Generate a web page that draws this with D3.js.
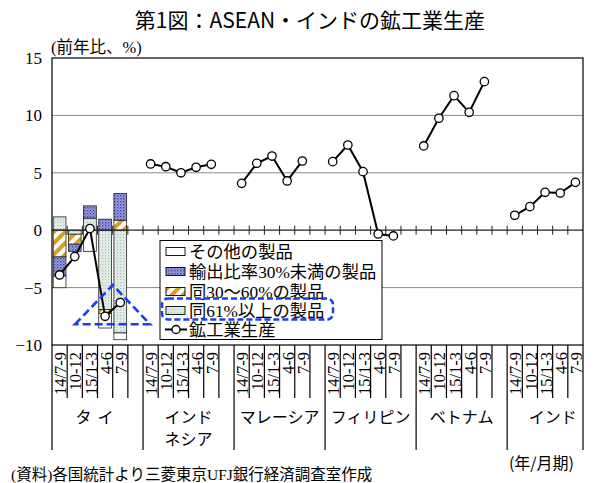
<!DOCTYPE html>
<html><head><meta charset="utf-8">
<script src="https://cdn.jsdelivr.net/npm/d3@7"></script>
<style>
html,body{margin:0;padding:0;background:#fff;}
svg{display:block;}
</style></head>
<body>
<svg id="c" width="605" height="483"></svg>
<script>
// ---------- data ----------
const quarters = ["14/7-9", "10-12", "15/1-3", "4-6", "7-9"];
const countries = ["タイ", "インド\nネシア", "マレーシア", "フィリピン", "ベトナム", "インド"];
const yTicks = [-10, -5, 0, 5, 10, 15];

// Thailand breakdown by export ratio (pt contribution)
const share61 = [1.16, -0.35, 1.05, -6.92, -8.95];
const share30to60 = [-2.33, -0.87, 0, -0.34, 0.87];
const shareUnder30 = [-1.66, -0.64, 1.07, 0.96, 2.33];
const shareOther = [-1.02, 0, -1.84, -1.26, -0.59];

// Industrial production (yoy %)
const prodThailand = [-3.9, -2.3, 0.15, -7.5, -6.3];
const prodIndonesia = [5.77, 5.53, 5.0, 5.48, 5.74];
const prodMalaysia = [4.08, 5.83, 6.46, 4.29, 6.03];
const prodPhilippines = [5.97, 7.42, 5.1, -0.33, -0.5];
const prodVietnam = [7.34, 9.75, 11.72, 10.27, 12.94];
const prodIndia = [1.3, 2.05, 3.3, 3.24, 4.17];
const prodAll = [prodThailand, prodIndonesia, prodMalaysia, prodPhilippines, prodVietnam, prodIndia];

const legendLabels = ["その他の製品", "輸出比率30%未満の製品", "同30～60%の製品", "同61%以上の製品", "鉱工業生産"];

// ---------- build slots ----------
const slots = [];
countries.forEach((c, gi) => {
  quarters.forEach((q, qi) => {
    slots.push({id: gi + "_" + qi, label: q, group: gi, prod: prodAll[gi][qi],
      s61: gi === 0 ? share61[qi] : 0, s3060: gi === 0 ? share30to60[qi] : 0,
      sU30: gi === 0 ? shareUnder30[qi] : 0, sOth: gi === 0 ? shareOther[qi] : 0});
  });
  if (gi < countries.length - 1) slots.push({id: gi + "_gap", label: "", group: gi, prod: null, s61: 0, s3060: 0, sU30: 0, sOth: 0});
});

// ---------- layout ----------
const L = 52, R = 583, T = 58, B = 345;
const svg = d3.select("#c");
const x = d3.scaleBand().domain(slots.map(d => d.id)).range([L, R]).paddingInner(0.16).paddingOuter(0.08);
const step = x.step();
const slotLeft = id => x(id) - step * 0.08;
const y = d3.scaleLinear().domain([-10, 15]).range([B, T]);

const serif = "'Liberation Serif','Noto Sans CJK JP',serif";
const cjk = "'Noto Sans CJK JP','Liberation Serif',sans-serif";

// patterns
const defs = svg.append("defs");
const pBlue = defs.append("pattern").attr("id", "pBlue").attr("width", 3).attr("height", 3).attr("patternUnits", "userSpaceOnUse");
pBlue.append("rect").attr("width", 3).attr("height", 3).attr("fill", "#9fa2e2");
pBlue.append("rect").attr("width", 1.4).attr("height", 1.4).attr("fill", "#3b3d9e");
pBlue.append("rect").attr("x", 1.5).attr("y", 1.5).attr("width", 1.2).attr("height", 1.2).attr("fill", "#5a5cb8");
const pOr = defs.append("pattern").attr("id", "pOr").attr("width", 8).attr("height", 8).attr("patternUnits", "userSpaceOnUse").attr("patternTransform", "rotate(45)");
pOr.append("rect").attr("width", 8).attr("height", 8).attr("fill", "#fff");
pOr.append("rect").attr("width", 4).attr("height", 8).attr("fill", "#dc9e1e");
const pGr = defs.append("pattern").attr("id", "pGr").attr("width", 3).attr("height", 3).attr("patternUnits", "userSpaceOnUse");
pGr.append("rect").attr("width", 3).attr("height", 3).attr("fill", "#e6f0ea");
pGr.append("rect").attr("width", 1.2).attr("height", 1.2).attr("fill", "#a4c0b2");
pGr.append("rect").attr("x", 1.5).attr("y", 1.5).attr("width", 1).attr("height", 1).attr("fill", "#c2d6cb");

// ---------- title ----------
svg.append("text").attr("x", 310).attr("y", 28).attr("text-anchor", "middle")
  .attr("font-family", cjk).attr("font-size", 21).attr("fill", "#000").text("第1図：ASEAN・インドの鉱工業生産");
svg.append("text").attr("x", 51).attr("y", 53).attr("font-family", serif).attr("font-size", 16.5).text("(前年比、%)");

// ---------- grid ----------
svg.append("g").selectAll("line").data(yTicks.filter(v => v !== 0 && v !== 15 && v !== -10)).join("line")
  .attr("x1", L).attr("x2", R).attr("y1", d => y(d)).attr("y2", d => y(d))
  .attr("stroke", "#8a8a8a").attr("stroke-width", 1);

// y axis labels
const yAxis = d3.axisLeft(y).tickValues(yTicks).tickSize(0).tickPadding(10).tickFormat(d3.format("d"));
const gy = svg.append("g").attr("transform", `translate(${L},0)`).call(yAxis);
gy.select(".domain").remove();
gy.selectAll("text").attr("font-family", serif).attr("font-size", 17).attr("fill", "#000");

// ---------- stacked bars ----------
const keys = ["s61", "s3060", "sU30", "sOth"];
const fills = {s61: "url(#pGr)", s3060: "url(#pOr)", sU30: "url(#pBlue)", sOth: "#fff"};
const series = d3.stack().keys(keys).offset(d3.stackOffsetDiverging)(slots);
svg.append("g").selectAll("g").data(series).join("g").attr("fill", s => fills[s.key])
  .selectAll("rect").data(s => s.filter(d => d[1] - d[0] !== 0)).join("rect")
  .attr("x", d => x(d.data.id)).attr("width", x.bandwidth())
  .attr("y", d => y(Math.max(d[0], d[1]))).attr("height", d => Math.abs(y(d[0]) - y(d[1])))
  .attr("stroke", "#222").attr("stroke-width", 0.8);

// ---------- zero line with ticks ----------
const y0 = y(0);
svg.append("line").attr("x1", L).attr("x2", R).attr("y1", y0).attr("y2", y0).attr("stroke", "#222").attr("stroke-width", 1.2);
svg.append("g").selectAll("line").data(slots.slice(1)).join("line")
  .attr("x1", d => slotLeft(d.id)).attr("x2", d => slotLeft(d.id))
  .attr("y1", y0 - 4.5).attr("y2", y0 + 4.5).attr("stroke", "#222").attr("stroke-width", 1);

// ---------- production line ----------
const line = d3.line().defined(d => d.prod !== null).x(d => x(d.id) + x.bandwidth() / 2).y(d => y(d.prod));
svg.append("path").datum(slots).attr("d", line).attr("fill", "none").attr("stroke", "#000").attr("stroke-width", 2);
svg.append("g").selectAll("circle").data(slots.filter(d => d.prod !== null)).join("circle")
  .attr("cx", d => x(d.id) + x.bandwidth() / 2).attr("cy", d => y(d.prod)).attr("r", 4.2)
  .attr("fill", "#fff").attr("stroke", "#000").attr("stroke-width", 1.3);

// ---------- legend ----------
const lg = svg.append("g");
lg.append("rect").attr("x", 160).attr("y", 240.5).attr("width", 222).attr("height", 99).attr("fill", "#fff").attr("stroke", "#000").attr("stroke-width", 1);
const legFills = ["#fff", "url(#pBlue)", "url(#pOr)", "url(#pGr)"];
const rowY = [251.5, 271.5, 291.5, 310.5, 329.5];
legendLabels.forEach((t, i) => {
  if (i < 4) {
    lg.append("rect").attr("x", 166).attr("y", rowY[i] - 4).attr("width", 19).attr("height", 8)
      .attr("fill", legFills[i]).attr("stroke", "#000").attr("stroke-width", 0.9);
  } else {
    lg.append("line").attr("x1", 165).attr("x2", 187).attr("y1", rowY[i]).attr("y2", rowY[i]).attr("stroke", "#000").attr("stroke-width", 2);
    lg.append("circle").attr("cx", 176).attr("cy", rowY[i]).attr("r", 4).attr("fill", "#fff").attr("stroke", "#000").attr("stroke-width", 1.3);
  }
  lg.append("text").attr("x", 189).attr("y", rowY[i]).attr("dy", "0.36em").attr("font-family", serif).attr("font-size", 17.3).text(t);
});
lg.append("rect").attr("x", 162).attr("y", 298.5).attr("width", 171).attr("height", 21).attr("rx", 6)
  .attr("fill", "none").attr("stroke", "#1b3cf5").attr("stroke-width", 2.5).attr("stroke-dasharray", "6,3");

// ---------- dashed triangle ----------
const tri = [[75, 324.3], [112.8, 285], [150, 324.3]];
svg.append("path").attr("d", d3.line()(tri) + "Z").attr("fill", "none").attr("stroke", "#1b3cf5")
  .attr("stroke-width", 2.6).attr("stroke-dasharray", "8,4");

// ---------- frame ----------
svg.append("rect").attr("x", L).attr("y", T).attr("width", R - L).attr("height", B - T).attr("fill", "none").attr("stroke", "#000").attr("stroke-width", 1.2);

// ---------- category axis ----------
const bounds = d3.range(slots.length + 1).map(i => ({pos: L + i * step, long: i % 6 === 0 || i === slots.length}));
svg.append("g").selectAll("line").data(bounds).join("line")
  .attr("x1", d => d.pos).attr("x2", d => d.pos).attr("y1", B).attr("y2", d => d.long ? 450 : 398)
  .attr("stroke", "#000").attr("stroke-width", 1.2);
svg.append("g").selectAll("text").data(slots.filter(d => d.label)).join("text")
  .attr("transform", d => `translate(${x(d.id) + x.bandwidth() / 2 + 1},352) rotate(-90)`)
  .attr("text-anchor", "end").attr("dy", "0.34em")
  .attr("font-family", serif).attr("font-size", 16.5).text(d => d.label);

// group labels
countries.forEach((c, gi) => {
  const cx = L + (gi * 6 + 3) * step;
  c.split("\n").forEach((ln, li) => {
    svg.append("text").attr("x", cx).attr("y", 423 + li * 22).attr("text-anchor", "middle")
      .attr("font-family", cjk).attr("font-size", 16).attr("letter-spacing", ln.length <= 2 ? 6 : 0).text(ln);
  });
});

svg.append("text").attr("x", 574).attr("y", 469).attr("text-anchor", "end").attr("font-family", cjk).attr("font-size", 16).text("(年/月期)");
svg.append("text").attr("x", 11).attr("y", 479.5).attr("font-family", serif).attr("font-size", 15.5).text("(資料)各国統計より三菱東京UFJ銀行経済調査室作成");
</script>
</body></html>
